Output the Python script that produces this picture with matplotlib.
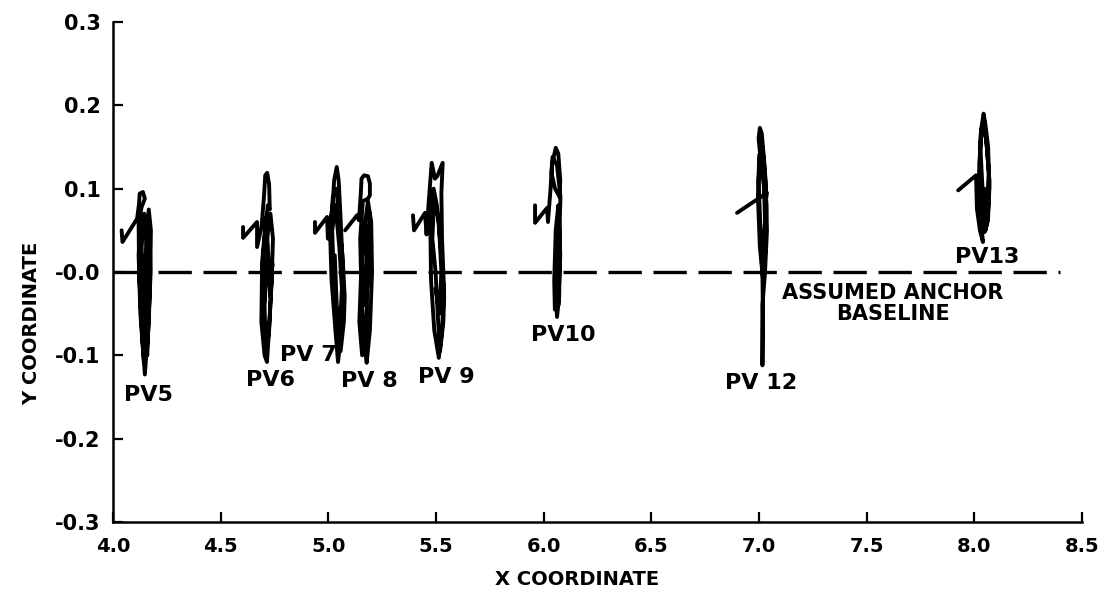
import matplotlib
matplotlib.use("Agg")
import matplotlib.pyplot as plt

# axis ticks
x_ticks = [4.0, 4.5, 5.0, 5.5, 6.0, 6.5, 7.0, 7.5, 8.0, 8.5]
x_tick_labels = ["4.0", "4.5", "5.0", "5.5", "6.0", "6.5", "7.0", "7.5", "8.0", "8.5"]
y_ticks = [0.3, 0.2, 0.1, 0.0, -0.1, -0.2, -0.3]
y_tick_labels = ["0.3", "0.2", "0.1", "-0.0", "-0.1", "-0.2", "-0.3"]

# assumed anchor baseline (y = 0)
baseline_x = [4.0, 8.40]
baseline_y = [0.0, 0.0]

# traced positions of each PV (x, y coordinates)
pv5_x = [4.040, 4.044, 4.112, 4.121, 4.124, 4.139, 4.148, 4.133, 4.119, 4.121,
         4.136, 4.148, 4.157, 4.172, 4.176, 4.166, 4.154, 4.150, 4.156, 4.166,
         4.174, 4.169, 4.130, 4.119, 4.127, 4.144, 4.141, 4.133, 4.145, 4.163,
         4.168, 4.159, 4.151, 4.139, 4.121]
pv5_y = [0.050, 0.036, 0.064, 0.082, 0.094, 0.096, 0.088, 0.078, 0.060, 0.000,
         -0.080, -0.123, -0.090, -0.020, 0.050, 0.075, 0.040, -0.030, -0.100, -0.060,
         0.000, 0.060, 0.066, 0.020, -0.050, -0.110, -0.040, 0.030, 0.070, 0.030,
         -0.040, -0.100, -0.060, 0.010, 0.035]

pv6_x = [4.604, 4.604, 4.669, 4.669, 4.690, 4.701, 4.707, 4.716, 4.725, 4.728,
         4.719, 4.710, 4.692, 4.689, 4.704, 4.715, 4.722, 4.737, 4.743, 4.731,
         4.716, 4.707, 4.698, 4.692, 4.710, 4.719, 4.731, 4.740, 4.725, 4.710,
         4.704, 4.716, 4.725, 4.716]
pv6_y = [0.054, 0.041, 0.060, 0.030, 0.055, 0.090, 0.116, 0.119, 0.105, 0.075,
         0.080, 0.060, 0.000, -0.060, -0.100, -0.108, -0.080, -0.010, 0.040, 0.070,
         0.040, -0.020, -0.050, 0.010, 0.065, 0.030, -0.030, 0.010, -0.070, -0.100,
         -0.040, 0.020, 0.000, -0.010]

pv7_x = [4.938, 4.938, 4.994, 4.998, 5.020, 5.027, 5.039, 5.048, 5.054, 5.063,
         5.069, 5.057, 5.045, 5.033, 5.015, 5.009, 5.021, 5.039, 5.048, 5.066,
         5.076, 5.072, 5.057, 5.042, 5.024, 5.018, 5.033, 5.051, 5.063, 5.051,
         5.039, 5.030]
pv7_y = [0.060, 0.047, 0.066, 0.040, 0.080, 0.110, 0.126, 0.110, 0.080, 0.030,
         -0.030, -0.080, -0.108, -0.070, -0.010, 0.040, 0.090, 0.100, 0.060, 0.020,
         -0.030, -0.060, -0.095, -0.060, 0.000, 0.050, 0.080, 0.030, -0.020, -0.080,
         -0.040, 0.020]

pv8_x = [5.078, 5.133, 5.142, 5.151, 5.154, 5.166, 5.184, 5.193, 5.193, 5.184,
         5.160, 5.148, 5.154, 5.169, 5.178, 5.193, 5.203, 5.199, 5.184, 5.166,
         5.151, 5.144, 5.157, 5.175, 5.181, 5.199, 5.193, 5.178, 5.163, 5.154,
         5.169, 5.184]
pv8_y = [0.050, 0.068, 0.062, 0.095, 0.112, 0.116, 0.115, 0.106, 0.092, 0.088,
         0.085, 0.040, -0.030, -0.090, -0.109, -0.070, 0.000, 0.060, 0.085, 0.050,
         -0.010, -0.060, -0.100, -0.080, -0.020, 0.030, 0.070, 0.020, -0.040, 0.010,
         0.060, 0.000]

pv9_x = [5.393, 5.398, 5.449, 5.456, 5.465, 5.480, 5.495, 5.506, 5.531, 5.525,
         5.528, 5.537, 5.528, 5.513, 5.492, 5.477, 5.474, 5.489, 5.504, 5.522,
         5.538, 5.534, 5.519, 5.510, 5.498, 5.483, 5.492, 5.513, 5.525, 5.516,
         5.498]
pv9_y = [0.068, 0.050, 0.071, 0.045, 0.080, 0.131, 0.112, 0.115, 0.131, 0.095,
         0.040, -0.020, -0.070, -0.103, -0.070, -0.010, 0.050, 0.100, 0.080, 0.030,
         -0.030, -0.060, -0.095, -0.060, 0.000, 0.040, 0.090, 0.060, 0.000, -0.050,
         -0.020]

pv10_x = [5.960, 5.960, 6.016, 6.020, 6.032, 6.038, 6.056, 6.068, 6.077, 6.074,
          6.053, 6.037, 6.041, 6.062, 6.078, 6.072, 6.062, 6.052, 6.049, 6.056,
          6.068, 6.075, 6.072, 6.062, 6.053, 6.059, 6.071, 6.077, 6.068, 6.056]
pv10_y = [0.080, 0.059, 0.077, 0.060, 0.100, 0.128, 0.149, 0.142, 0.110, 0.090,
          0.100, 0.118, 0.138, 0.128, 0.090, 0.040, -0.010, -0.045, -0.010, 0.050,
          0.080, 0.030, -0.030, -0.054, -0.020, 0.030, 0.070, 0.020, -0.040, 0.000]

pv12_x = [6.898, 7.037, 7.031, 7.010, 6.998, 7.004, 7.013, 7.025, 7.034, 7.031,
          7.019, 7.004, 6.995, 7.001, 7.016, 7.031, 7.037, 7.028, 7.016, 7.016,
          7.018, 7.016, 7.007, 6.998, 7.007, 7.022, 7.028, 7.013]
pv12_y = [0.071, 0.095, 0.085, 0.130, 0.160, 0.173, 0.166, 0.130, 0.080, 0.030,
          -0.010, 0.030, 0.090, 0.140, 0.150, 0.110, 0.050, 0.000, -0.040, -0.112,
          -0.050, 0.000, 0.050, 0.110, 0.150, 0.120, 0.060, 0.010]

pv13_x = [7.925, 8.008, 8.012, 8.026, 8.040, 8.028, 8.022, 8.031, 8.043, 8.052,
          8.064, 8.070, 8.061, 8.048, 8.037, 8.025, 8.031, 8.046, 8.058, 8.070,
          8.064, 8.052, 8.040, 8.028, 8.037, 8.055, 8.067, 8.058, 8.046]
pv13_y = [0.098, 0.116, 0.076, 0.050, 0.036, 0.070, 0.120, 0.170, 0.190, 0.176,
          0.150, 0.100, 0.060, 0.048, 0.080, 0.130, 0.170, 0.182, 0.150, 0.110,
          0.065, 0.050, 0.090, 0.150, 0.176, 0.160, 0.120, 0.075, 0.100]

# PV labels and where they sit
pv_names = ["PV5", "PV6", "PV 7", "PV 8", "PV 9", "PV10", "PV 12", "PV13"]
pv_label_x = [4.163, 4.73, 4.905, 5.19, 5.55, 6.09, 7.01, 8.06]
pv_label_y = [-0.148, -0.130, -0.100, -0.131, -0.126, -0.076, -0.133, 0.018]

plt.rcParams['font.family'] = ['DejaVu Sans']
plt.rcParams['font.weight'] = 'bold'

fig = plt.figure(figsize=(11.07, 6.04), dpi=100)
ax = fig.add_axes([113 / 1107, 82 / 604, 969 / 1107, 500 / 604])

traces = [(pv5_x, pv5_y), (pv6_x, pv6_y), (pv7_x, pv7_y), (pv8_x, pv8_y),
          (pv9_x, pv9_y), (pv10_x, pv10_y), (pv12_x, pv12_y), (pv13_x, pv13_y)]
for tx, ty in traces:
    ax.plot(tx, ty, color='black', lw=2.8, solid_joinstyle='round',
            solid_capstyle='round')

ax.plot(baseline_x, baseline_y, color='black', lw=2.4,
        linestyle=(0, (10, 3.5)), solid_capstyle='butt')

for name, lx, ly in zip(pv_names, pv_label_x, pv_label_y):
    ax.text(lx, ly, name, ha='center', va='center', fontsize=16, fontweight='bold')

ax.text(7.62, -0.038, "ASSUMED ANCHOR\nBASELINE", ha='center', va='center',
        fontsize=15, fontweight='bold', linespacing=1.05)

ax.set_xlim(4.0, 8.5)
ax.set_ylim(-0.3, 0.3)
for side in ['top', 'right']:
    ax.spines[side].set_visible(False)
for side in ['left', 'bottom']:
    ax.spines[side].set_linewidth(1.8)

ax.set_xticks(x_ticks)
ax.set_xticklabels(x_tick_labels, fontsize=14, fontweight='bold')
ax.set_yticks(y_ticks)
ax.set_yticklabels(y_tick_labels, fontsize=15, fontweight='bold')
ax.tick_params(axis='both', direction='in', width=1.6, length=7)
ax.tick_params(axis='x', pad=11)
ax.tick_params(axis='y', pad=9)

fig.text(0.029, 0.464, "Y COORDINATE", rotation=90, ha='center', va='center',
         fontsize=14, fontweight='bold')
fig.text(0.521, 0.04, "X COORDINATE", ha='center', va='center',
         fontsize=14, fontweight='bold')

fig.savefig('out.png', dpi=100)
